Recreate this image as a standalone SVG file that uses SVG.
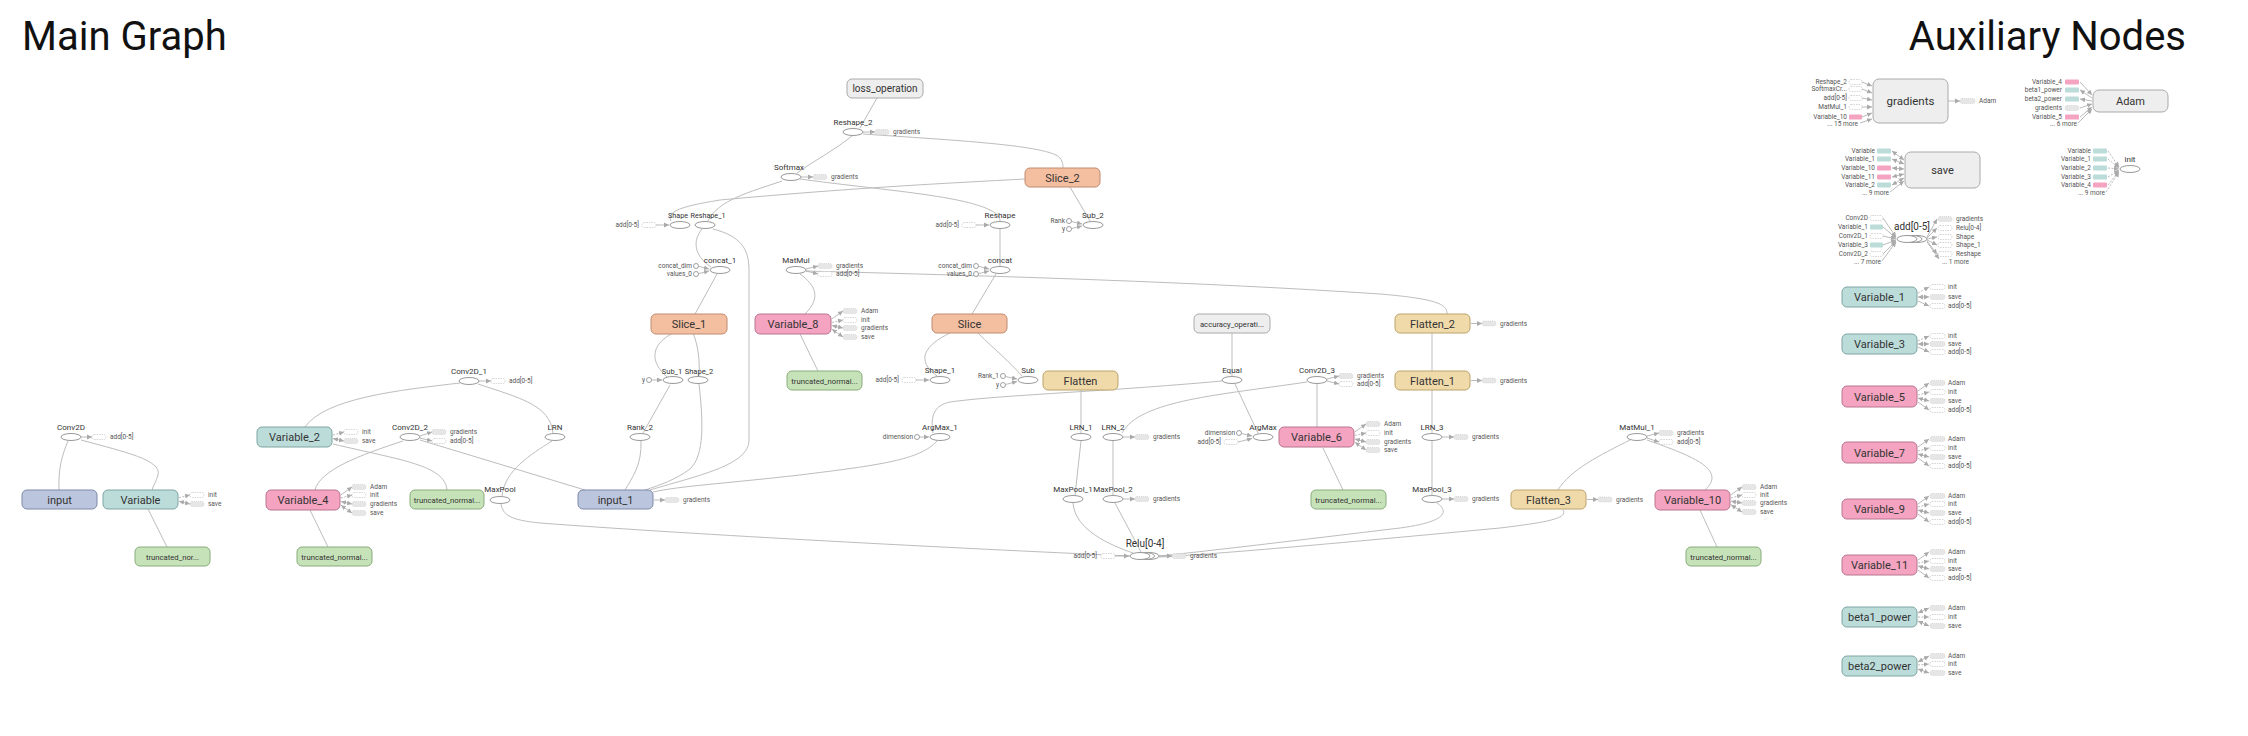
<svg xmlns="http://www.w3.org/2000/svg" width="2248" height="736" viewBox="0 0 2248 736">
<style>
text{font-family:Roboto,"Liberation Sans",Arial,sans-serif}
.t{font-size:40px;fill:#111}
.nl{font-size:11px;fill:#333;text-anchor:middle}
.tl{font-size:7.7px;fill:#333;text-anchor:middle}
.ol{font-size:8px;fill:#333;text-anchor:middle}
.rl{font-size:10px;fill:#333;text-anchor:middle}
.s{font-size:6.5px;fill:#555}
.r{text-anchor:end}
.bl{fill:#bcc5de;stroke:#7d8aa8}
.tq{fill:#bcdcda;stroke:#7ea5a2}
.pk{fill:#f4a4c0;stroke:#b9748f}
.gr{fill:#c6e2b8;stroke:#8aac7c}
.sa{fill:#f4bea0;stroke:#be8c70}
.tn{fill:#f0daaa;stroke:#bca46c}
.gy{fill:#eee;stroke:#aaa}
.el{fill:#fff;stroke:#999}
.e{fill:none;stroke:#bdbdbd}
.sl{fill:none;stroke:#aaa;stroke-width:.8}
.cd{stroke-dasharray:2,1.5}
.sf{fill:#e6e6e6;stroke:#c8c8c8;stroke-width:.6;stroke-dasharray:1,1}
.so{fill:#fff;stroke:#bbb;stroke-width:.6;stroke-dasharray:1.5,1}
.sp{fill:#f4a4c0}
.st{fill:#bcdcda}
.c{fill:#fff;stroke:#888;stroke-width:.8}
</style>
<defs>
<marker id="a" markerWidth="6" markerHeight="6" refX="5" refY="3" orient="auto" markerUnits="userSpaceOnUse"><path d="M0,0.6 L5,3 L0,5.4 z" fill="#aaa"/></marker>
<marker id="b" markerWidth="6" markerHeight="6" refX="5" refY="3" orient="auto-start-reverse" markerUnits="userSpaceOnUse"><path d="M0,0.6 L5,3 L0,5.4 z" fill="#aaa"/></marker>
</defs>
<rect width="2248" height="736" fill="#fff"/>
<text class="t" x="22" y="50">Main Graph</text>
<text class="t r" x="2186" y="50">Auxiliary Nodes</text>

<g id="edges">
<path class="e" d="M68,441 C62,455 58,470 59,490"/>
<path class="e" d="M81,440 C125,452 162,460 158,475 C156,482 153,486 152,490"/>
<path class="e" d="M148,509 L167,547"/>
<path class="e" d="M460,383 C400,390 325,398 305,427"/>
<path class="e" d="M478,384 C520,398 550,405 553,433"/>
<path class="e" d="M333,444 C400,460 445,465 447,490"/>
<path class="e" d="M403,441 C360,455 320,470 315,490"/>
<path class="e" d="M420,440 L585,490"/>
<path class="e" d="M552,441 C530,455 505,470 502,496"/>
<path class="e" d="M501,504 C503,515 510,520 540,523 C700,535 950,548 1130,556"/>
<path class="e" d="M310,510 L328,547"/>
<path class="e" d="M1073,503 C1075,530 1110,545 1133,553"/>
<path class="e" d="M1115,503 L1141,552"/>
<path class="e" d="M1437,503 C1450,512 1445,522 1400,528 C1300,540 1200,552 1159,556"/>
<path class="e" d="M1563,510 C1568,518 1550,522 1500,528 C1350,542 1220,554 1159,557"/>
<path class="e" d="M1081,390 L1081,433"/>
<path class="e" d="M1081,441 L1075,495"/>
<path class="e" d="M1113,441 L1113,495"/>
<path class="e" d="M1307,382 C1220,395 1140,400 1122,433"/>
<path class="e" d="M1317,384 L1317,427"/>
<path class="e" d="M1323,448 L1343,490"/>
<path class="e" d="M1232,333 L1232,376"/>
<path class="e" d="M1235,384 L1258,433"/>
<path class="e" d="M1222,381 C1100,392 1000,395 950,402 C935,405 930,415 933,433"/>
<path class="e" d="M937,441 C920,460 880,465 800,475 C720,484 680,486 653,492"/>
<path class="e" d="M670,385 L643,433"/>
<path class="e" d="M641,441 C642,465 632,478 625,490"/>
<path class="e" d="M699,384 C703,420 705,455 690,469 C675,480 660,485 645,490"/>
<path class="e" d="M713,229 C740,236 749,248 749,270 L749,440 C749,465 700,475 650,490"/>
<path class="e" d="M673,333 C650,345 650,362 667,377"/>
<path class="e" d="M693,333 C698,345 700,360 699,376"/>
<path class="e" d="M717,274 L695,314"/>
<path class="e" d="M702,229 C693,240 693,255 711,267"/>
<path class="e" d="M782,181 C750,192 718,200 708,221"/>
<path class="e" d="M671,221 C665,210 690,205 720,200 C850,188 950,183 1025,179"/>
<path class="e" d="M800,179 C880,190 960,195 990,210 C998,214 1000,217 1000,221"/>
<path class="e" d="M852,136 C835,150 815,160 797,173"/>
<path class="e" d="M877,98 L860,128"/>
<path class="e" d="M863,134 C950,140 1050,145 1060,158 C1063,162 1063,165 1063,168"/>
<path class="e" d="M1070,187 L1090,221"/>
<path class="e" d="M1000,229 L1000,266"/>
<path class="e" d="M996,274 L972,314"/>
<path class="e" d="M806,271 C1000,276 1200,282 1380,294 C1440,299 1447,305 1447,314"/>
<path class="e" d="M800,274 C815,285 822,297 805,314"/>
<path class="e" d="M800,334 L818,371"/>
<path class="e" d="M950,333 C925,345 915,360 937,376"/>
<path class="e" d="M978,333 C995,350 1010,362 1022,376"/>
<path class="e" d="M1700,510 L1717,547"/>
<path class="e" d="M1630,440 C1600,455 1570,470 1558,490"/>
<path class="e" d="M1647,440 C1690,455 1712,465 1712,478 C1712,483 1708,487 1705,490"/>
<path class="e" d="M1432,333 L1432,371"/>
<path class="e" d="M1432,389 L1432,433"/>
<path class="e" d="M1432,441 L1432,495"/>
</g>

<g id="input"><rect class="bl" x="22" y="490" width="75" height="19" rx="5"/><text class="nl" x="59.5" y="503.5">input</text></g>

<g id="Variable"><rect class="tq" x="103" y="490" width="75" height="19" rx="5"/><text class="nl" x="140.5" y="503.5">Variable</text>
<path class="sl cd" d="M179,497.7 L190,495" marker-end="url(#a)"/><rect class="so" x="190" y="492.5" width="14" height="5" rx="2"/><text class="s" x="208" y="497.2">init</text>
<path class="sl" d="M179,501.3 L190,504" marker-start="url(#b)" marker-end="url(#b)"/><rect class="sf" x="190" y="501.5" width="14" height="5" rx="2"/><text class="s" x="208" y="506.2">save</text></g>

<g id="truncated_normal"><rect class="gr" x="135" y="547" width="75" height="19" rx="5"/><text class="tl" x="172.5" y="559.5">truncated_nor...</text></g>

<g id="Conv2D"><text class="ol" x="71" y="430">Conv2D</text><ellipse class="el" cx="71" cy="437" rx="10" ry="3.5"/>
<path class="sl" d="M81,437 L92,437" marker-end="url(#a)"/><rect class="so" x="92" y="434.5" width="14" height="5" rx="2"/><text class="s" x="110" y="439.2">add[0-5]</text></g>

<g id="Variable_2"><rect class="tq" x="257" y="427" width="75" height="20" rx="5"/><text class="nl" x="294.5" y="441">Variable_2</text>
<path class="sl cd" d="M333,435 L344,432" marker-end="url(#a)"/><rect class="so" x="344" y="429.5" width="14" height="5" rx="2"/><text class="s" x="362" y="434.2">init</text>
<path class="sl" d="M333,438.6 L344,441" marker-start="url(#b)" marker-end="url(#b)"/><rect class="sf" x="344" y="438.5" width="14" height="5" rx="2"/><text class="s" x="362" y="443.2">save</text></g>

<g id="Conv2D_1"><text class="ol" x="469" y="374">Conv2D_1</text><ellipse class="el" cx="469" cy="381" rx="10" ry="3.5"/>
<path class="sl" d="M479,381 L491,381" marker-end="url(#a)"/><rect class="so" x="491" y="378.5" width="14" height="5" rx="2"/><text class="s" x="509" y="383.2">add[0-5]</text></g>

<g id="Conv2D_2"><text class="ol" x="410" y="430">Conv2D_2</text><ellipse class="el" cx="410" cy="437" rx="10" ry="3.5"/>
<path class="sl" d="M420,436 L432,432" marker-end="url(#a)"/><rect class="sf" x="432" y="429.5" width="14" height="5" rx="2"/><text class="s" x="450" y="434.2">gradients</text>
<path class="sl" d="M420,438 L432,441" marker-end="url(#a)"/><rect class="so" x="432" y="438.5" width="14" height="5" rx="2"/><text class="s" x="450" y="443.2">add[0-5]</text></g>

<g id="LRN"><text class="ol" x="555" y="430">LRN</text><ellipse class="el" cx="555" cy="437" rx="10" ry="3.5"/></g>
<g id="Rank_2"><text class="ol" x="640" y="430">Rank_2</text><ellipse class="el" cx="640" cy="437" rx="10" ry="3.5"/></g>
<g id="Sub_1"><text class="ol" x="672" y="374" style="font-size:7.5px">Sub_1</text><ellipse class="el" cx="673" cy="380" rx="10" ry="3.5"/>
<circle class="c" cx="649" cy="380" r="2.5"/><path class="sl" d="M651.5,380 L662,380" marker-end="url(#a)"/><text class="s r" x="645" y="382.2">y</text></g>
<g id="Shape_2"><text class="ol" x="699" y="374" style="font-size:7.5px">Shape_2</text><ellipse class="el" cx="698" cy="380" rx="10" ry="3.5"/></g>

<g id="Variable_4"><rect class="pk" x="266" y="490" width="74" height="20" rx="5"/><text class="nl" x="303" y="504">Variable_4</text>
<path class="sl" d="M341,494.8 L352,487" marker-end="url(#a)"/><rect class="sf" x="352" y="484.5" width="14" height="5" rx="2"/><text class="s" x="370" y="489.2">Adam</text>
<path class="sl cd" d="M341,498 L352,495" marker-end="url(#a)"/><rect class="so" x="352" y="492.5" width="14" height="5" rx="2"/><text class="s" x="370" y="497.2">init</text>
<path class="sl" d="M341,501.6 L352,504" marker-start="url(#b)" marker-end="url(#b)"/><rect class="sf" x="352" y="501.5" width="14" height="5" rx="2"/><text class="s" x="370" y="506.2">gradients</text>
<path class="sl" d="M341,505.2 L352,513" marker-start="url(#b)" marker-end="url(#b)"/><rect class="sf" x="352" y="510.5" width="14" height="5" rx="2"/><text class="s" x="370" y="515.2">save</text></g>

<g id="truncated_normal_1"><rect class="gr" x="410" y="490" width="74" height="19" rx="5"/><text class="tl" x="447" y="502.5">truncated_normal...</text></g>
<g id="truncated_normal_2"><rect class="gr" x="297" y="547" width="75" height="19" rx="5"/><text class="tl" x="334.5" y="559.5">truncated_normal...</text></g>

<g id="MaxPool"><text class="ol" x="500" y="492">MaxPool</text><ellipse class="el" cx="500" cy="500" rx="10" ry="3.5"/></g>

<g id="input_1"><rect class="bl" x="578" y="490" width="75" height="19" rx="5"/><text class="nl" x="615.5" y="503.5">input_1</text>
<path class="sl" d="M654,500 L665,500" marker-end="url(#a)"/><rect class="sf" x="665" y="497.5" width="14" height="5" rx="2"/><text class="s" x="683" y="502.2">gradients</text></g>

<g id="loss_operation"><rect class="gy" x="847" y="79" width="76" height="19" rx="5"/><text class="rl" x="885" y="92">loss_operation</text></g>

<g id="Reshape_2"><text class="ol" x="853" y="125">Reshape_2</text><ellipse class="el" cx="853" cy="132" rx="10" ry="3.5"/>
<path class="sl" d="M863,132 L875,132" marker-end="url(#a)"/><rect class="sf" x="875" y="129.5" width="14" height="5" rx="2"/><text class="s" x="893" y="134.2">gradients</text></g>

<g id="Softmax"><text class="ol" x="789" y="170">Softmax</text><ellipse class="el" cx="791" cy="177" rx="10" ry="3.5"/>
<path class="sl" d="M801,177 L813,177" marker-end="url(#a)"/><rect class="sf" x="813" y="174.5" width="14" height="5" rx="2"/><text class="s" x="831" y="179.2">gradients</text></g>

<g id="Shape"><text class="ol" x="678" y="218" style="font-size:7.2px">Shape</text><ellipse class="el" cx="680" cy="225" rx="10" ry="3.5"/>
<rect class="so" x="642" y="222.5" width="14" height="5" rx="2"/><path class="sl" d="M656,225 L669,225" marker-end="url(#a)"/><text class="s r" x="639" y="227.2">add[0-5]</text></g>
<g id="Reshape_1"><text class="ol" x="708" y="218" style="font-size:7.2px">Reshape_1</text><ellipse class="el" cx="705" cy="225" rx="10" ry="3.5"/></g>

<g id="concat_1"><text class="ol" x="720" y="263">concat_1</text><ellipse class="el" cx="720" cy="270" rx="10" ry="3.5"/>
<circle class="c" cx="696" cy="266" r="2.5"/><path class="sl" d="M698.5,266.3 L709,269" marker-end="url(#a)"/><text class="s r" x="692" y="268.2">concat_dim</text>
<circle class="c" cx="696" cy="274" r="2.5"/><path class="sl" d="M698.5,273.7 L709,271" marker-end="url(#a)"/><text class="s r" x="692" y="276.2">values_0</text></g>

<g id="Slice_1"><rect class="sa" x="651" y="314" width="76" height="20" rx="5"/><text class="nl" x="689" y="328">Slice_1</text></g>

<g id="MatMul"><text class="ol" x="796" y="263">MatMul</text><ellipse class="el" cx="796" cy="270" rx="10" ry="3.5"/>
<path class="sl" d="M806,269 L818,266" marker-end="url(#a)"/><rect class="sf" x="818" y="263.5" width="14" height="5" rx="2"/><text class="s" x="836" y="268.2">gradients</text>
<path class="sl" d="M806,271 L818,274" marker-end="url(#a)"/><rect class="so" x="818" y="271.5" width="14" height="5" rx="2"/><text class="s" x="836" y="276.2">add[0-5]</text></g>

<g id="Variable_8"><rect class="pk" x="755" y="314" width="76" height="20" rx="5"/><text class="nl" x="793" y="328">Variable_8</text>
<path class="sl" d="M832,318.8 L843,311" marker-end="url(#a)"/><rect class="sf" x="843" y="308.5" width="14" height="5" rx="2"/><text class="s" x="861" y="313.2">Adam</text>
<path class="sl cd" d="M832,322.4 L843,320" marker-end="url(#a)"/><rect class="so" x="843" y="317.5" width="14" height="5" rx="2"/><text class="s" x="861" y="322.2">init</text>
<path class="sl" d="M832,325.6 L843,328" marker-start="url(#b)" marker-end="url(#b)"/><rect class="sf" x="843" y="325.5" width="14" height="5" rx="2"/><text class="s" x="861" y="330.2">gradients</text>
<path class="sl" d="M832,329.2 L843,337" marker-start="url(#b)" marker-end="url(#b)"/><rect class="sf" x="843" y="334.5" width="14" height="5" rx="2"/><text class="s" x="861" y="339.2">save</text></g>
<g id="truncated_normal_3"><rect class="gr" x="787" y="371" width="75" height="19" rx="5"/><text class="tl" x="824.5" y="383.5">truncated_normal...</text></g>

<g id="Slice_2"><rect class="sa" x="1025" y="168" width="75" height="19" rx="5"/><text class="nl" x="1062.5" y="181.5">Slice_2</text></g>

<g id="Reshape"><text class="ol" x="1000" y="218">Reshape</text><ellipse class="el" cx="1000" cy="225" rx="10" ry="3.5"/>
<rect class="so" x="962" y="222.5" width="14" height="5" rx="2"/><path class="sl" d="M976,225 L989,225" marker-end="url(#a)"/><text class="s r" x="959" y="227.2">add[0-5]</text></g>

<g id="Sub_2"><text class="ol" x="1093" y="218">Sub_2</text><ellipse class="el" cx="1093" cy="225" rx="10" ry="3.5"/>
<circle class="c" cx="1069" cy="221" r="2.5"/><path class="sl" d="M1071.5,221.5 L1082,224" marker-end="url(#a)"/><text class="s r" x="1065" y="223.2">Rank</text>
<circle class="c" cx="1069" cy="229" r="2.5"/><path class="sl" d="M1071.5,228.5 L1082,226" marker-end="url(#a)"/><text class="s r" x="1065" y="231.2">y</text></g>

<g id="concat"><text class="ol" x="1000" y="263">concat</text><ellipse class="el" cx="1000" cy="270" rx="10" ry="3.5"/>
<circle class="c" cx="976" cy="266" r="2.5"/><path class="sl" d="M978.5,266.3 L989,269" marker-end="url(#a)"/><text class="s r" x="972" y="268.2">concat_dim</text>
<circle class="c" cx="976" cy="274" r="2.5"/><path class="sl" d="M978.5,273.7 L989,271" marker-end="url(#a)"/><text class="s r" x="972" y="276.2">values_0</text></g>

<g id="Slice"><rect class="sa" x="932" y="314" width="75" height="19" rx="5"/><text class="nl" x="969.5" y="327.5">Slice</text></g>

<g id="Shape_1"><text class="ol" x="940" y="373">Shape_1</text><ellipse class="el" cx="940" cy="380" rx="10" ry="3.5"/>
<rect class="so" x="902" y="377.5" width="14" height="5" rx="2"/><path class="sl" d="M916,380 L929,380" marker-end="url(#a)"/><text class="s r" x="899" y="382.2">add[0-5]</text></g>

<g id="Sub"><text class="ol" x="1028" y="373">Sub</text><ellipse class="el" cx="1028" cy="380" rx="10" ry="3.5"/>
<circle class="c" cx="1003" cy="376" r="2.5"/><path class="sl" d="M1005.5,376.5 L1017,379" marker-end="url(#a)"/><text class="s r" x="999" y="378.2">Rank_1</text>
<circle class="c" cx="1003" cy="385" r="2.5"/><path class="sl" d="M1005.5,384.5 L1017,381.5" marker-end="url(#a)"/><text class="s r" x="999" y="387.2">y</text></g>

<g id="ArgMax_1"><text class="ol" x="940" y="430">ArgMax_1</text><ellipse class="el" cx="940" cy="437" rx="10" ry="3.5"/>
<circle class="c" cx="917" cy="437" r="2.5"/><path class="sl" d="M919.5,437 L929,437" marker-end="url(#a)"/><text class="s r" x="913" y="439.2">dimension</text></g>

<g id="Flatten"><rect class="tn" x="1043" y="371" width="75" height="19" rx="5"/><text class="nl" x="1080.5" y="384.5">Flatten</text></g>

<g id="accuracy_operation"><rect class="gy" x="1194" y="314" width="76" height="19" rx="5"/><text class="tl" x="1232" y="326.5">accuracy_operati...</text></g>
<g id="Equal"><text class="ol" x="1232" y="373">Equal</text><ellipse class="el" cx="1232" cy="380" rx="10" ry="3.5"/></g>

<g id="ArgMax"><text class="ol" x="1263" y="430">ArgMax</text><ellipse class="el" cx="1263" cy="437" rx="10" ry="3.5"/>
<circle class="c" cx="1239" cy="433" r="2.5"/><path class="sl" d="M1241.5,433.5 L1252,436" marker-end="url(#a)"/><text class="s r" x="1235" y="435.2">dimension</text>
<rect class="so" x="1224" y="439.5" width="14" height="5" rx="2"/><path class="sl" d="M1238,442 L1252,438.5" marker-end="url(#a)"/><text class="s r" x="1221" y="444.2">add[0-5]</text></g>

<g id="Conv2D_3"><text class="ol" x="1317" y="373">Conv2D_3</text><ellipse class="el" cx="1317" cy="380" rx="10" ry="3.5"/>
<path class="sl" d="M1327,379 L1339,376" marker-end="url(#a)"/><rect class="sf" x="1339" y="373.5" width="14" height="5" rx="2"/><text class="s" x="1357" y="378.2">gradients</text>
<path class="sl" d="M1327,381 L1339,384" marker-end="url(#a)"/><rect class="so" x="1339" y="381.5" width="14" height="5" rx="2"/><text class="s" x="1357" y="386.2">add[0-5]</text></g>

<g id="Variable_6"><rect class="pk" x="1279" y="427" width="75" height="20" rx="5"/><text class="nl" x="1316.5" y="441">Variable_6</text>
<path class="sl" d="M1355,431.8 L1366,424" marker-end="url(#a)"/><rect class="sf" x="1366" y="421.5" width="14" height="5" rx="2"/><text class="s" x="1384" y="426.2">Adam</text>
<path class="sl cd" d="M1355,435.4 L1366,433" marker-end="url(#a)"/><rect class="so" x="1366" y="430.5" width="14" height="5" rx="2"/><text class="s" x="1384" y="435.2">init</text>
<path class="sl" d="M1355,439 L1366,442" marker-start="url(#b)" marker-end="url(#b)"/><rect class="sf" x="1366" y="439.5" width="14" height="5" rx="2"/><text class="s" x="1384" y="444.2">gradients</text>
<path class="sl" d="M1355,442.2 L1366,450" marker-start="url(#b)" marker-end="url(#b)"/><rect class="sf" x="1366" y="447.5" width="14" height="5" rx="2"/><text class="s" x="1384" y="452.2">save</text></g>
<g id="truncated_normal_4"><rect class="gr" x="1311" y="490" width="75" height="19" rx="5"/><text class="tl" x="1348.5" y="502.5">truncated_normal...</text></g>

<g id="LRN_1"><text class="ol" x="1081" y="430">LRN_1</text><ellipse class="el" cx="1081" cy="437" rx="10" ry="3.5"/></g>
<g id="LRN_2"><text class="ol" x="1113" y="430">LRN_2</text><ellipse class="el" cx="1113" cy="437" rx="10" ry="3.5"/>
<path class="sl" d="M1123,437 L1135,437" marker-end="url(#a)"/><rect class="sf" x="1135" y="434.5" width="14" height="5" rx="2"/><text class="s" x="1153" y="439.2">gradients</text></g>
<g id="MaxPool_1"><text class="ol" x="1073" y="492">MaxPool_1</text><ellipse class="el" cx="1073" cy="499" rx="10" ry="3.5"/></g>
<g id="MaxPool_2"><text class="ol" x="1113" y="492">MaxPool_2</text><ellipse class="el" cx="1113" cy="499" rx="10" ry="3.5"/>
<path class="sl" d="M1123,499 L1135,499" marker-end="url(#a)"/><rect class="sf" x="1135" y="496.5" width="14" height="5" rx="2"/><text class="s" x="1153" y="501.2">gradients</text></g>

<g id="Relu"><text class="rl" x="1145" y="547">Relu[0-4]</text>
<ellipse class="el" cx="1149" cy="556" rx="10" ry="3.5"/><ellipse class="el" cx="1144.5" cy="556" rx="10" ry="3.5"/><ellipse class="el" cx="1140" cy="556" rx="10" ry="3.5"/>
<rect class="so" x="1101" y="553.5" width="14" height="5" rx="2"/><path class="sl" d="M1115,556 L1129,556" marker-end="url(#a)"/><text class="s r" x="1097" y="558.2">add[0-5]</text>
<path class="sl" d="M1159,556 L1172,556" marker-end="url(#a)"/><rect class="sf" x="1172" y="553.5" width="14" height="5" rx="2"/><text class="s" x="1190" y="558.2">gradients</text></g>

<g id="Flatten_2"><rect class="tn" x="1395" y="314" width="75" height="19" rx="5"/><text class="nl" x="1432.5" y="327.5">Flatten_2</text>
<path class="sl" d="M1471,323.5 L1482,323.5" marker-end="url(#a)"/><rect class="sf" x="1482" y="321" width="14" height="5" rx="2"/><text class="s" x="1500" y="325.7">gradients</text></g>
<g id="Flatten_1"><rect class="tn" x="1395" y="371" width="75" height="19" rx="5"/><text class="nl" x="1432.5" y="384.5">Flatten_1</text>
<path class="sl" d="M1471,380.5 L1482,380.5" marker-end="url(#a)"/><rect class="sf" x="1482" y="378" width="14" height="5" rx="2"/><text class="s" x="1500" y="382.7">gradients</text></g>
<g id="LRN_3"><text class="ol" x="1432" y="430">LRN_3</text><ellipse class="el" cx="1432" cy="437" rx="10" ry="3.5"/>
<path class="sl" d="M1442,437 L1454,437" marker-end="url(#a)"/><rect class="sf" x="1454" y="434.5" width="14" height="5" rx="2"/><text class="s" x="1472" y="439.2">gradients</text></g>
<g id="MaxPool_3"><text class="ol" x="1432" y="492">MaxPool_3</text><ellipse class="el" cx="1432" cy="499" rx="10" ry="3.5"/>
<path class="sl" d="M1442,499 L1454,499" marker-end="url(#a)"/><rect class="sf" x="1454" y="496.5" width="14" height="5" rx="2"/><text class="s" x="1472" y="501.2">gradients</text></g>

<g id="Flatten_3"><rect class="tn" x="1511" y="490" width="75" height="19" rx="5"/><text class="nl" x="1548.5" y="503.5">Flatten_3</text>
<path class="sl" d="M1587,499.5 L1598,499.5" marker-end="url(#a)"/><rect class="sf" x="1598" y="497" width="14" height="5" rx="2"/><text class="s" x="1616" y="501.7">gradients</text></g>

<g id="MatMul_1"><text class="ol" x="1637" y="430">MatMul_1</text><ellipse class="el" cx="1637" cy="437" rx="10" ry="3.5"/>
<path class="sl" d="M1647,436 L1659,433" marker-end="url(#a)"/><rect class="sf" x="1659" y="430.5" width="14" height="5" rx="2"/><text class="s" x="1677" y="435.2">gradients</text>
<path class="sl" d="M1647,438 L1659,442" marker-end="url(#a)"/><rect class="so" x="1659" y="439.5" width="14" height="5" rx="2"/><text class="s" x="1677" y="444.2">add[0-5]</text></g>

<g id="Variable_10"><rect class="pk" x="1655" y="490" width="75" height="20" rx="5"/><text class="nl" x="1692.5" y="504">Variable_10</text>
<path class="sl" d="M1731,494.8 L1742,487" marker-end="url(#a)"/><rect class="sf" x="1742" y="484.5" width="14" height="5" rx="2"/><text class="s" x="1760" y="489.2">Adam</text>
<path class="sl cd" d="M1731,498 L1742,495" marker-end="url(#a)"/><rect class="so" x="1742" y="492.5" width="14" height="5" rx="2"/><text class="s" x="1760" y="497.2">init</text>
<path class="sl" d="M1731,501.2 L1742,503" marker-start="url(#b)" marker-end="url(#b)"/><rect class="sf" x="1742" y="500.5" width="14" height="5" rx="2"/><text class="s" x="1760" y="505.2">gradients</text>
<path class="sl" d="M1731,504.8 L1742,512" marker-start="url(#b)" marker-end="url(#b)"/><rect class="sf" x="1742" y="509.5" width="14" height="5" rx="2"/><text class="s" x="1760" y="514.2">save</text></g>
<g id="truncated_normal_5"><rect class="gr" x="1686" y="547" width="75" height="19" rx="5"/><text class="tl" x="1723.5" y="559.5">truncated_normal...</text></g>

<g id="aux_gradients"><rect class="gy" x="1873" y="79" width="75" height="44" rx="6"/><text class="nl" x="1910.5" y="105" style="font-size:11.5px">gradients</text>
<text class="s r" x="1847" y="84.2">Reshape_2</text><rect class="so" x="1849" y="79.5" width="13" height="5" rx="2"/><path class="sl" d="M1862,82 L1872,86" marker-end="url(#a)"/>
<text class="s r" x="1847" y="91.2">SoftmaxCr...</text><rect class="so" x="1849" y="86.5" width="13" height="5" rx="2"/><path class="sl" d="M1862,89 L1872,93" marker-end="url(#a)"/>
<text class="s r" x="1847" y="100.2">add[0-5]</text><rect class="so" x="1849" y="95.5" width="13" height="5" rx="2"/><path class="sl" d="M1862,98 L1872,100" marker-end="url(#a)"/>
<text class="s r" x="1847" y="109.2">MatMul_1</text><rect class="so" x="1849" y="104.5" width="13" height="5" rx="2"/><path class="sl" d="M1862,107 L1872,107" marker-end="url(#a)"/>
<text class="s r" x="1847" y="119.2">Variable_10</text><rect class="sp" x="1849" y="114.5" width="13" height="5" rx="1"/><path class="sl" d="M1862,117 L1872,113" marker-end="url(#a)"/>
<text class="s r" x="1858" y="126">... 15 more</text><path class="sl" d="M1860,123 L1872,119" marker-end="url(#a)"/>
<path class="sl" d="M1948,101 L1960,101" marker-end="url(#a)"/><rect class="sf" x="1960" y="98.5" width="15" height="5" rx="2"/><text class="s" x="1979" y="103.2">Adam</text></g>

<g id="aux_Adam"><rect class="gy" x="2093" y="90" width="75" height="22" rx="6"/><text class="nl" x="2130.5" y="105">Adam</text>
<text class="s r" x="2062" y="84.2">Variable_4</text><rect class="sp" x="2065" y="79.5" width="14" height="5" rx="1"/><path class="sl" d="M2080,82 L2092,95" marker-end="url(#a)"/>
<text class="s r" x="2062" y="92.2">beta1_power</text><rect class="st" x="2065" y="87.5" width="14" height="5" rx="1"/><path class="sl" d="M2080,90 L2092,98" marker-start="url(#b)"/>
<text class="s r" x="2062" y="101.2">beta2_power</text><rect class="st" x="2065" y="96.5" width="14" height="5" rx="1"/><path class="sl" d="M2080,99 L2092,101" marker-start="url(#b)"/>
<text class="s r" x="2062" y="110.2">gradients</text><rect class="sf" x="2065" y="105.5" width="14" height="5" rx="2"/><path class="sl" d="M2080,108 L2092,104" marker-end="url(#a)"/>
<text class="s r" x="2062" y="119.2">Variable_5</text><rect class="sp" x="2065" y="114.5" width="14" height="5" rx="1"/><path class="sl" d="M2080,117 L2092,107" marker-end="url(#a)"/>
<text class="s r" x="2077" y="126">... 6 more</text><path class="sl" d="M2078,123 L2092,109" marker-end="url(#a)"/></g>

<g id="aux_save"><rect class="gy" x="1905" y="152" width="75" height="36" rx="6"/><text class="nl" x="1942.5" y="174">save</text>
<text class="s r" x="1875" y="153.2">Variable</text><rect class="st" x="1877" y="148.5" width="14" height="5" rx="1"/><path class="sl" d="M1892,151 L1904,160" marker-start="url(#b)" marker-end="url(#b)"/>
<text class="s r" x="1875" y="161.2">Variable_1</text><rect class="st" x="1877" y="156.5" width="14" height="5" rx="1"/><path class="sl" d="M1892,159 L1904,164" marker-start="url(#b)" marker-end="url(#b)"/>
<text class="s r" x="1875" y="170.2">Variable_10</text><rect class="sp" x="1877" y="165.5" width="14" height="5" rx="1"/><path class="sl" d="M1892,168 L1904,169" marker-start="url(#b)" marker-end="url(#b)"/>
<text class="s r" x="1875" y="179.2">Variable_11</text><rect class="sp" x="1877" y="174.5" width="14" height="5" rx="1"/><path class="sl" d="M1892,177 L1904,174" marker-start="url(#b)" marker-end="url(#b)"/>
<text class="s r" x="1875" y="187.2">Variable_2</text><rect class="st" x="1877" y="182.5" width="14" height="5" rx="1"/><path class="sl" d="M1892,185 L1904,178" marker-start="url(#b)" marker-end="url(#b)"/>
<text class="s r" x="1889" y="195">... 9 more</text><path class="sl" d="M1890,192 L1904,181" marker-end="url(#a)"/></g>

<g id="aux_init"><text class="ol" x="2130" y="162">init</text><ellipse class="el" cx="2130" cy="169" rx="10" ry="3.5"/>
<text class="s r" x="2091" y="153.2">Variable</text><rect class="st" x="2093" y="148.5" width="14" height="5" rx="1"/><path class="sl cd" d="M2108,151 L2119,167" marker-end="url(#a)"/>
<text class="s r" x="2091" y="161.2">Variable_1</text><rect class="st" x="2093" y="156.5" width="14" height="5" rx="1"/><path class="sl cd" d="M2108,159 L2119,168" marker-end="url(#a)"/>
<text class="s r" x="2091" y="170.2">Variable_2</text><rect class="st" x="2093" y="165.5" width="14" height="5" rx="1"/><path class="sl cd" d="M2108,168 L2119,169" marker-end="url(#a)"/>
<text class="s r" x="2091" y="179.2">Variable_3</text><rect class="st" x="2093" y="174.5" width="14" height="5" rx="1"/><path class="sl cd" d="M2108,177 L2119,170" marker-end="url(#a)"/>
<text class="s r" x="2091" y="187.2">Variable_4</text><rect class="sp" x="2093" y="182.5" width="14" height="5" rx="1"/><path class="sl cd" d="M2108,185 L2119,171" marker-end="url(#a)"/>
<text class="s r" x="2105" y="195">... 9 more</text><path class="sl cd" d="M2106,192 L2119,172" marker-end="url(#a)"/></g>

<g id="aux_add"><text class="rl" x="1912" y="230">add[0-5]</text>
<ellipse class="el" cx="1917" cy="239" rx="10" ry="3.5"/><ellipse class="el" cx="1912" cy="239" rx="10" ry="3.5"/><ellipse class="el" cx="1907" cy="239" rx="10" ry="3.5"/>
<text class="s r" x="1868" y="220.2">Conv2D</text><rect class="so" x="1870" y="215.5" width="13" height="5" rx="2"/><path class="sl" d="M1883,218 L1896,237" marker-end="url(#a)"/>
<text class="s r" x="1868" y="229.2">Variable_1</text><rect class="st" x="1870" y="224.5" width="13" height="5" rx="1"/><path class="sl" d="M1883,227 L1896,238" marker-end="url(#a)"/>
<text class="s r" x="1868" y="238.2">Conv2D_1</text><rect class="so" x="1870" y="233.5" width="13" height="5" rx="2"/><path class="sl" d="M1883,236 L1896,239" marker-end="url(#a)"/>
<text class="s r" x="1868" y="247.2">Variable_3</text><rect class="st" x="1870" y="242.5" width="13" height="5" rx="1"/><path class="sl" d="M1883,245 L1896,240" marker-end="url(#a)"/>
<text class="s r" x="1868" y="256.2">Conv2D_2</text><rect class="so" x="1870" y="251.5" width="13" height="5" rx="2"/><path class="sl" d="M1883,254 L1896,241" marker-end="url(#a)"/>
<text class="s r" x="1881" y="264">... 7 more</text><path class="sl" d="M1882,261 L1896,242" marker-end="url(#a)"/>
<path class="sl" d="M1927,237 L1937,219" marker-end="url(#a)"/><rect class="sf" x="1938" y="216.5" width="14" height="5" rx="2"/><text class="s" x="1956" y="221.2">gradients</text>
<path class="sl" d="M1927,238 L1937,228" marker-end="url(#a)"/><rect class="so" x="1938" y="225.5" width="14" height="5" rx="2"/><text class="s" x="1956" y="230.2">Relu[0-4]</text>
<path class="sl" d="M1927,239 L1937,237" marker-end="url(#a)"/><rect class="so" x="1938" y="234.5" width="14" height="5" rx="2"/><text class="s" x="1956" y="239.2">Shape</text>
<path class="sl" d="M1927,240 L1937,245" marker-end="url(#a)"/><rect class="so" x="1938" y="242.5" width="14" height="5" rx="2"/><text class="s" x="1956" y="247.2">Shape_1</text>
<path class="sl" d="M1927,241 L1937,254" marker-end="url(#a)"/><rect class="so" x="1938" y="251.5" width="14" height="5" rx="2"/><text class="s" x="1956" y="256.2">Reshape</text>
<path class="sl" d="M1927,242 L1939,259" marker-end="url(#a)"/><text class="s" x="1942" y="264">... 1 more</text></g>

<g id="aux_Variable_1"><rect class="tq" x="1842" y="287" width="75" height="20" rx="5"/><text class="nl" x="1879.5" y="301">Variable_1</text>
<path class="sl cd" d="M1918,293 L1929,287" marker-end="url(#a)"/><rect class="so" x="1930" y="284.5" width="15" height="5" rx="2"/><text class="s" x="1948" y="289.2">init</text>
<path class="sl" d="M1918,297 L1929,297" marker-start="url(#b)" marker-end="url(#b)"/><rect class="sf" x="1930" y="294.5" width="15" height="5" rx="2"/><text class="s" x="1948" y="299.2">save</text>
<path class="sl" d="M1918,301 L1929,306" marker-end="url(#a)"/><rect class="so" x="1930" y="303.5" width="15" height="5" rx="2"/><text class="s" x="1948" y="308.2">add[0-5]</text></g>

<g id="aux_Variable_3"><rect class="tq" x="1842" y="334" width="75" height="20" rx="5"/><text class="nl" x="1879.5" y="348">Variable_3</text>
<path class="sl cd" d="M1918,341 L1929,336" marker-end="url(#a)"/><rect class="so" x="1930" y="333.5" width="15" height="5" rx="2"/><text class="s" x="1948" y="338.2">init</text>
<path class="sl" d="M1918,344 L1929,344" marker-start="url(#b)" marker-end="url(#b)"/><rect class="sf" x="1930" y="341.5" width="15" height="5" rx="2"/><text class="s" x="1948" y="346.2">save</text>
<path class="sl" d="M1918,347 L1929,352" marker-end="url(#a)"/><rect class="so" x="1930" y="349.5" width="15" height="5" rx="2"/><text class="s" x="1948" y="354.2">add[0-5]</text></g>

<g id="aux_Variable_5"><rect class="pk" x="1842" y="386" width="75" height="21" rx="5"/><text class="nl" x="1879.5" y="400.5">Variable_5</text>
<path class="sl" d="M1918,391 L1929,383" marker-end="url(#a)"/><rect class="sf" x="1930" y="380.5" width="15" height="5" rx="2"/><text class="s" x="1948" y="385.2">Adam</text>
<path class="sl cd" d="M1918,395 L1929,392" marker-end="url(#a)"/><rect class="so" x="1930" y="389.5" width="15" height="5" rx="2"/><text class="s" x="1948" y="394.2">init</text>
<path class="sl" d="M1918,398 L1929,401" marker-start="url(#b)" marker-end="url(#b)"/><rect class="sf" x="1930" y="398.5" width="15" height="5" rx="2"/><text class="s" x="1948" y="403.2">save</text>
<path class="sl" d="M1918,402 L1929,410" marker-end="url(#a)"/><rect class="so" x="1930" y="407.5" width="15" height="5" rx="2"/><text class="s" x="1948" y="412.2">add[0-5]</text></g>

<g id="aux_Variable_7"><rect class="pk" x="1842" y="442" width="75" height="21" rx="5"/><text class="nl" x="1879.5" y="456.5">Variable_7</text>
<path class="sl" d="M1918,447 L1929,439" marker-end="url(#a)"/><rect class="sf" x="1930" y="436.5" width="15" height="5" rx="2"/><text class="s" x="1948" y="441.2">Adam</text>
<path class="sl cd" d="M1918,451 L1929,448" marker-end="url(#a)"/><rect class="so" x="1930" y="445.5" width="15" height="5" rx="2"/><text class="s" x="1948" y="450.2">init</text>
<path class="sl" d="M1918,454 L1929,457" marker-start="url(#b)" marker-end="url(#b)"/><rect class="sf" x="1930" y="454.5" width="15" height="5" rx="2"/><text class="s" x="1948" y="459.2">save</text>
<path class="sl" d="M1918,458 L1929,466" marker-end="url(#a)"/><rect class="so" x="1930" y="463.5" width="15" height="5" rx="2"/><text class="s" x="1948" y="468.2">add[0-5]</text></g>

<g id="aux_Variable_9"><rect class="pk" x="1842" y="499" width="75" height="20" rx="5"/><text class="nl" x="1879.5" y="513">Variable_9</text>
<path class="sl" d="M1918,504 L1929,496" marker-end="url(#a)"/><rect class="sf" x="1930" y="493.5" width="15" height="5" rx="2"/><text class="s" x="1948" y="498.2">Adam</text>
<path class="sl cd" d="M1918,507 L1929,504" marker-end="url(#a)"/><rect class="so" x="1930" y="501.5" width="15" height="5" rx="2"/><text class="s" x="1948" y="506.2">init</text>
<path class="sl" d="M1918,510 L1929,513" marker-start="url(#b)" marker-end="url(#b)"/><rect class="sf" x="1930" y="510.5" width="15" height="5" rx="2"/><text class="s" x="1948" y="515.2">save</text>
<path class="sl" d="M1918,514 L1929,522" marker-end="url(#a)"/><rect class="so" x="1930" y="519.5" width="15" height="5" rx="2"/><text class="s" x="1948" y="524.2">add[0-5]</text></g>

<g id="aux_Variable_11"><rect class="pk" x="1842" y="555" width="75" height="20" rx="5"/><text class="nl" x="1879.5" y="569">Variable_11</text>
<path class="sl" d="M1918,560 L1929,552" marker-end="url(#a)"/><rect class="sf" x="1930" y="549.5" width="15" height="5" rx="2"/><text class="s" x="1948" y="554.2">Adam</text>
<path class="sl cd" d="M1918,563 L1929,561" marker-end="url(#a)"/><rect class="so" x="1930" y="558.5" width="15" height="5" rx="2"/><text class="s" x="1948" y="563.2">init</text>
<path class="sl" d="M1918,566 L1929,569" marker-start="url(#b)" marker-end="url(#b)"/><rect class="sf" x="1930" y="566.5" width="15" height="5" rx="2"/><text class="s" x="1948" y="571.2">save</text>
<path class="sl" d="M1918,570 L1929,578" marker-end="url(#a)"/><rect class="so" x="1930" y="575.5" width="15" height="5" rx="2"/><text class="s" x="1948" y="580.2">add[0-5]</text></g>

<g id="aux_beta1_power"><rect class="tq" x="1842" y="607" width="75" height="20" rx="5"/><text class="nl" x="1879.5" y="621">beta1_power</text>
<path class="sl" d="M1918,613 L1929,608" marker-start="url(#b)" marker-end="url(#b)"/><rect class="sf" x="1930" y="605.5" width="15" height="5" rx="2"/><text class="s" x="1948" y="610.2">Adam</text>
<path class="sl cd" d="M1918,617 L1929,617" marker-end="url(#a)"/><rect class="so" x="1930" y="614.5" width="15" height="5" rx="2"/><text class="s" x="1948" y="619.2">init</text>
<path class="sl" d="M1918,621 L1929,626" marker-start="url(#b)" marker-end="url(#b)"/><rect class="sf" x="1930" y="623.5" width="15" height="5" rx="2"/><text class="s" x="1948" y="628.2">save</text></g>

<g id="aux_beta2_power"><rect class="tq" x="1842" y="656" width="75" height="20" rx="5"/><text class="nl" x="1879.5" y="670">beta2_power</text>
<path class="sl" d="M1918,662 L1929,656" marker-start="url(#b)" marker-end="url(#b)"/><rect class="sf" x="1930" y="653.5" width="15" height="5" rx="2"/><text class="s" x="1948" y="658.2">Adam</text>
<path class="sl cd" d="M1918,665 L1929,664" marker-end="url(#a)"/><rect class="so" x="1930" y="661.5" width="15" height="5" rx="2"/><text class="s" x="1948" y="666.2">init</text>
<path class="sl" d="M1918,669 L1929,673" marker-start="url(#b)" marker-end="url(#b)"/><rect class="sf" x="1930" y="670.5" width="15" height="5" rx="2"/><text class="s" x="1948" y="675.2">save</text></g>
</svg>
